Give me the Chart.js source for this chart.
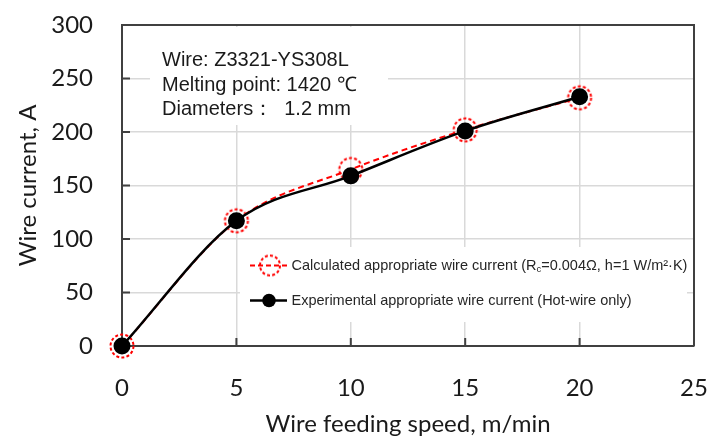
<!DOCTYPE html>
<html><head><meta charset="utf-8">
<script src="https://cdn.jsdelivr.net/npm/chart.js@4.4.0/dist/chart.umd.min.js"></script>
<style>html,body{margin:0;padding:0;background:#fff}canvas{display:block}</style>
</head><body>
<canvas id="c" width="709" height="441"></canvas>
<script>
// ---- data ----
const speeds = [0, 5, 10, 15, 20];
const calculatedCurrent = [0, 117, 165, 202, 232];
const experimentalCurrent = [0, 117, 159, 201, 233];
const xTickValues = [0, 5, 10, 15, 20, 25];
const yTickValues = [0, 50, 100, 150, 200, 250, 300];
const xTitle = 'Wire feeding speed, m/min';
const yTitle = 'Wire current, A';
const infoLines = ['Wire: Z3321-YS308L', 'Melting point: 1420 ℃', 'Diameters：  1.2 mm'];
const legendCalcParts = ['Calculated appropriate wire current (R', 'c', '=0.004Ω, h=1 W/m²·K)'];
const legendExp = 'Experimental appropriate wire current (Hot-wire only)';

const AXIS_FONT = 'Lato';
const TEXT_FONT = '"Liberation Sans", Arial, sans-serif';
const AXIS_COLOR = '#404040';

function dashedCircle(r, lw, dash) {
  let s = Math.ceil(2 * r + lw + 2); if (s % 2) s++;
  const cv = document.createElement('canvas');
  cv.width = s; cv.height = s;
  const g = cv.getContext('2d');
  g.strokeStyle = '#ff0000'; g.lineWidth = lw; g.setLineDash(dash);
  g.beginPath(); g.arc(s / 2, s / 2, r, 0, Math.PI * 2); g.stroke();
  return cv;
}
const redRing = dashedCircle(11.5, 2, [3, 2.2]);
const redRingLegend = dashedCircle(10, 2, [3, 2.2]);

const decor = {
  id: 'decor',
  beforeDatasetsDraw(chart) {
    const ctx = chart.ctx, a = chart.chartArea;
    const xs = chart.scales.x, ys = chart.scales.y;
    ctx.save();
    ctx.strokeStyle = AXIS_COLOR; ctx.lineWidth = 2;
    ctx.beginPath();
    ctx.moveTo(a.left, a.top); ctx.lineTo(a.right, a.top); ctx.lineTo(a.right, a.bottom);
    ctx.stroke();
    ctx.beginPath();
    yTickValues.forEach(v => {
      if (v === yTickValues[0] || v === yTickValues[yTickValues.length - 1]) return;
      const y = ys.getPixelForValue(v);
      ctx.moveTo(a.left, y); ctx.lineTo(a.left + 8, y);
    });
    xTickValues.forEach(v => {
      if (v === xTickValues[0] || v === xTickValues[xTickValues.length - 1]) return;
      const x = xs.getPixelForValue(v);
      ctx.moveTo(x, a.bottom); ctx.lineTo(x, a.bottom - 8);
    });
    ctx.stroke();

    // info box
    ctx.fillStyle = '#fff';
    ctx.fillRect(150, 27, 238, 98);
    ctx.fillStyle = '#1a1a1a';
    ctx.font = '20px ' + TEXT_FONT;
    ctx.textBaseline = 'alphabetic'; ctx.textAlign = 'left';
    infoLines.forEach((t, i) => ctx.fillText(t, 162, 66 + i * 24.5));

    // legend box
    ctx.fillStyle = '#fff';
    ctx.fillRect(240, 247, 447, 75);
    const y1 = 265.5, y2 = 300.5;
    ctx.strokeStyle = '#ff0000'; ctx.lineWidth = 2; ctx.setLineDash([5, 3]);
    ctx.beginPath(); ctx.moveTo(250, y1); ctx.lineTo(287, y1); ctx.stroke();
    ctx.setLineDash([]);
    ctx.drawImage(redRingLegend, 270 - redRingLegend.width / 2, y1 - redRingLegend.height / 2);
    ctx.strokeStyle = '#000'; ctx.lineWidth = 2.5;
    ctx.beginPath(); ctx.moveTo(250, y2); ctx.lineTo(287, y2); ctx.stroke();
    ctx.fillStyle = '#000';
    ctx.beginPath(); ctx.arc(269, y2, 6.8, 0, Math.PI * 2); ctx.fill();
    ctx.fillStyle = '#262626';
    ctx.textBaseline = 'middle';
    const fs = 14.5;
    ctx.font = fs + 'px ' + TEXT_FONT;
    let x = 291.5;
    ctx.fillText(legendCalcParts[0], x, y1);
    x += ctx.measureText(legendCalcParts[0]).width;
    ctx.font = (fs * 0.65) + 'px ' + TEXT_FONT;
    ctx.fillText(legendCalcParts[1], x, y1 + 4);
    x += ctx.measureText(legendCalcParts[1]).width;
    ctx.font = fs + 'px ' + TEXT_FONT;
    ctx.fillText(legendCalcParts[2], x, y1);
    ctx.fillText(legendExp, 291.5, y2);
    ctx.restore();
  }
};

function zeroPad(s) { s.paddingLeft = 0; s.paddingRight = 0; s.paddingTop = 0; s.paddingBottom = 0; }

new Chart(document.getElementById('c'), {
  type: 'line',
  data: {
    datasets: [
      {
        label: 'Experimental appropriate wire current (Hot-wire only)',
        data: speeds.map((s, i) => ({ x: s, y: experimentalCurrent[i] })),
        borderColor: '#000', borderWidth: 2.5,
        pointRadius: 8.5, pointBackgroundColor: '#000', pointBorderWidth: 0,
        cubicInterpolationMode: 'monotone', clip: false
      },
      {
        label: 'Calculated appropriate wire current',
        data: speeds.map((s, i) => ({ x: s, y: calculatedCurrent[i] })),
        borderColor: '#ff0000', borderWidth: 2, borderDash: [6, 4],
        pointStyle: redRing, pointRadius: 11,
        cubicInterpolationMode: 'monotone', clip: false
      }
    ]
  },
  options: {
    responsive: false, animation: false, devicePixelRatio: 1,
    layout: { padding: { left: 0, right: 15, top: 25, bottom: 0 } },
    plugins: { legend: { display: false }, tooltip: { enabled: false } },
    scales: {
      x: {
        type: 'linear',
        min: xTickValues[0], max: xTickValues[xTickValues.length - 1],
        afterBuildTicks: s => { s.ticks = xTickValues.map(v => ({ value: v })); },
        afterFit: s => { s.height = 95; zeroPad(s); },
        grid: { color: '#d9d9d9', lineWidth: 1.5, drawTicks: false },
        border: { color: AXIS_COLOR, width: 2 },
        ticks: { padding: 28, color: '#1a1a1a', font: { family: AXIS_FONT, size: 24 }, maxRotation: 0 },
        title: { display: true, text: xTitle, color: '#1a1a1a', font: { family: AXIS_FONT, size: 24 }, padding: { top: 0, bottom: 2 } }
      },
      y: {
        type: 'linear',
        min: yTickValues[0], max: yTickValues[yTickValues.length - 1],
        afterBuildTicks: s => { s.ticks = yTickValues.map(v => ({ value: v })); },
        afterFit: s => { s.width = 122; zeroPad(s); },
        grid: { color: '#d9d9d9', lineWidth: 1.5, drawTicks: false },
        border: { color: AXIS_COLOR, width: 2 },
        ticks: { padding: 29, color: '#1a1a1a', font: { family: AXIS_FONT, size: 24 } },
        title: { display: true, text: yTitle, color: '#1a1a1a', font: { family: AXIS_FONT, size: 24 }, padding: { top: 14, bottom: 0 } }
      }
    }
  },
  plugins: [decor]
});
</script>
</body></html>
